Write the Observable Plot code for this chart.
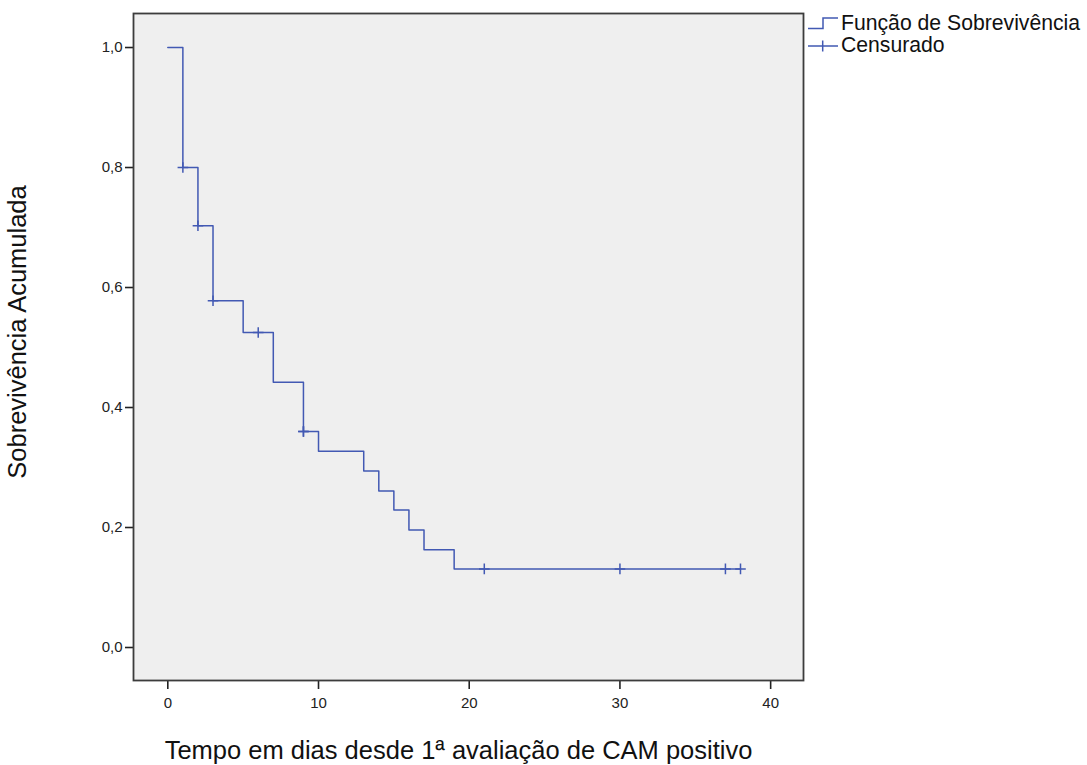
<!DOCTYPE html>
<html>
<head>
<meta charset="utf-8">
<script src="https://cdn.jsdelivr.net/npm/d3@7"></script>
<script src="https://cdn.jsdelivr.net/npm/@observablehq/plot@0.6"></script>
<style>
  body { margin: 0; background: white; }
  #wrap { position: relative; width: 1087px; height: 765px; }
  #legend { position: absolute; left: 0; top: 0; pointer-events: none; }
</style>
</head>
<body>
<div id="wrap"></div>
<script>
// Kaplan-Meier step function (time in days, cumulative survival)
const times = [0, 1, 2, 3, 5, 7, 9, 10, 13, 14, 15, 16, 17, 19, 38];
const survival = [1.0, 0.8, 0.703, 0.578, 0.525, 0.442, 0.36, 0.327, 0.294, 0.261, 0.229, 0.196, 0.163, 0.131, 0.131];
// censored observations
const censorTimes = [1, 2, 3, 6, 9, 9, 21, 30, 37, 38];
const censorSurvival = [0.8, 0.703, 0.578, 0.525, 0.36, 0.36, 0.131, 0.131, 0.131, 0.131];
// axes
const xTicks = [0, 10, 20, 30, 40];
const yTicks = [0, 0.2, 0.4, 0.6, 0.8, 1.0];
const xTitle = "Tempo em dias desde 1ª avaliação de CAM positivo";
const yTitle = "Sobrevivência Acumulada";
const legendLabels = ["Função de Sobrevivência", "Censurado"];

const km = times.map((t, i) => ({t, s: survival[i]}));
const cens = censorTimes.map((t, i) => ({t, s: censorSurvival[i]}));
const blue = "#4259b3";
const font = "'Liberation Sans', Arial, sans-serif";

const chart = Plot.plot({
  width: 1087,
  height: 765,
  marginLeft: 133,
  marginRight: 284,
  marginTop: 13,
  marginBottom: 85,
  x: {domain: [-2.276, 42.18]},
  y: {domain: [-0.055, 1.0567]},
  style: {fontFamily: font, background: "white", color: "#222"},
  marks: [
    Plot.frame({fill: "#efefef"}),
    Plot.axisX({ticks: xTicks, tickSize: 9, tickPadding: 8, fontSize: 15, strokeWidth: 1.6, label: null, tickFormat: d => String(d)}),
    Plot.axisY({ticks: yTicks, tickSize: 8, tickPadding: 3, fontSize: 15, strokeWidth: 1.6, label: null,
      tickFormat: d => d.toFixed(1).replace(".", ",")}),
    Plot.line(km, {x: "t", y: "s", curve: "step-after", stroke: blue, strokeWidth: 1.5}),
    Plot.dot(cens, {x: "t", y: "s", symbol: "plus", r: 3.5, stroke: blue, strokeWidth: 1.5}),
    Plot.frame({stroke: "#3c3c3c", strokeWidth: 1.8}),
    Plot.text([xTitle], {frameAnchor: "bottom", dx: -10, dy: 70, fontSize: 25.5, fill: "#111", lineAnchor: "middle", textAnchor: "middle"}),
    Plot.text([yTitle], {frameAnchor: "left", dx: -116, dy: -15, rotate: -90, fontSize: 25.5, fill: "#111", lineAnchor: "middle", textAnchor: "middle"})
  ]
});
document.getElementById("wrap").appendChild(chart);

// legend overlay (top right)
const ns = "http://www.w3.org/2000/svg";
const leg = document.createElementNS(ns, "svg");
leg.setAttribute("id", "legend");
leg.setAttribute("width", 1087);
leg.setAttribute("height", 765);
leg.innerHTML = `
  <path d="M808,28.5H823V18H838" fill="none" stroke="${blue}" stroke-width="1.5"/>
  <text x="841" y="30" font-family="${font}" font-size="21.2" fill="#111">${legendLabels[0]}</text>
  <path d="M808,46H838M822.7,40.5V51.5" fill="none" stroke="${blue}" stroke-width="1.5"/>
  <text x="841" y="52" font-family="${font}" font-size="21.2" fill="#111">${legendLabels[1]}</text>
`;
document.getElementById("wrap").appendChild(leg);
</script>
</body>
</html>
